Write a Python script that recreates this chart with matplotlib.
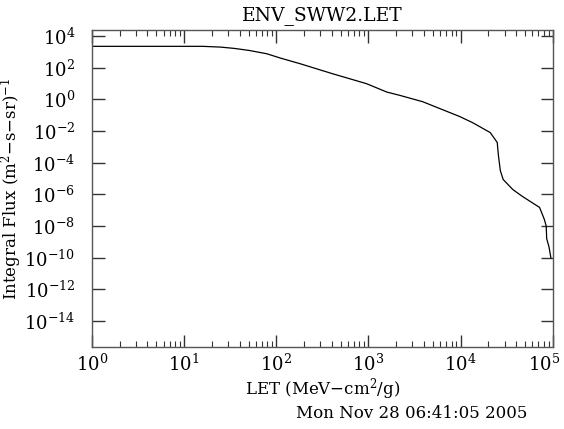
import math
import matplotlib
matplotlib.use('Agg')
import matplotlib.pyplot as plt
import matplotlib.ticker as mticker
import matplotlib.transforms as mtransforms

# LET (MeV-cm^2/g) and integral flux (m^2-s-sr)^-1
let = [1, 16, 25, 35, 51, 79, 112, 182, 407, 955, 1585, 2190, 3890, 9770,
       13500, 21000, 25000, 25700, 27000, 29000, 37000, 47000, 72000, 81000,
       85000, 86000, 91000, 95500]
flux = [2240, 2240, 2000, 1660, 1230, 760, 400, 178, 42, 9.8, 2.9, 1.8,
        0.71, 0.083, 0.034, 8e-3, 1.9e-3, 3.2e-4, 3.2e-5, 8.7e-6, 2.0e-6,
        7.4e-7, 1.5e-7, 2.7e-8, 1e-8, 1.6e-9, 5e-10, 1e-10]

title = 'ENV_SWW2.LET'
stamp = 'Mon Nov 28 06:41:05 2005'

plt.rcParams['font.family'] = ['DejaVu Serif']
plt.rcParams['mathtext.fontset'] = 'dejavuserif'

fig = plt.figure(figsize=(5.64, 4.29), dpi=100)
ax = fig.add_axes([0.163, 0.191, 0.817, 0.739])
ax.plot(let, flux, color='black', lw=0.9)

ax.set_xscale('log')
ax.set_yscale('log')
ax.set_xlim(1, 1e5)
ax.set_ylim(10 ** -15.64, 10 ** 4.38)

ax.yaxis.set_major_locator(mticker.FixedLocator([10.0 ** e for e in range(4, -15, -2)]))
ax.yaxis.set_minor_locator(mticker.NullLocator())
ax.xaxis.set_major_locator(mticker.LogLocator(base=10, numticks=10))
ax.xaxis.set_minor_locator(mticker.LogLocator(base=10, subs=range(2, 10), numticks=10))
fmt = mticker.FuncFormatter(lambda v, p: r'$10^{%d}$' % round(math.log10(v)))
ax.xaxis.set_major_formatter(fmt)
ax.yaxis.set_major_formatter(fmt)

for s in ax.spines.values():
    s.set_color('#555555')
    s.set_linewidth(1.0)
ax.tick_params(which='both', direction='in', top=True, right=True, color='#333333')
ax.tick_params(which='major', length=9, width=1.0)
ax.tick_params(which='minor', length=4, width=0.8)
ax.tick_params(axis='y', which='major', labelsize=13, pad=12)
ax.tick_params(axis='x', which='major', labelsize=13, pad=5)

ax.set_title(title, fontsize=13.5, pad=7)
ax.set_xlabel(r'LET (MeV$-$cm$^{2}$/g)', fontsize=12, labelpad=1)
ax.set_ylabel(r'Integral Flux (m$^{2}$$-$s$-$sr)$^{-1}$', fontsize=12, labelpad=0)
fig.text(0.935, 0.035, stamp, fontsize=12, ha='right', va='center')

# keep the last x label inside the figure
fig.canvas.draw()
last = [t for t in ax.get_xticklabels() if t.get_text() == r'$10^{5}$']
for t in last:
    t.set_transform(t.get_transform() + mtransforms.ScaledTranslation(-6 / 72, 0, fig.dpi_scale_trans))

fig.savefig('out.png', dpi=100)
